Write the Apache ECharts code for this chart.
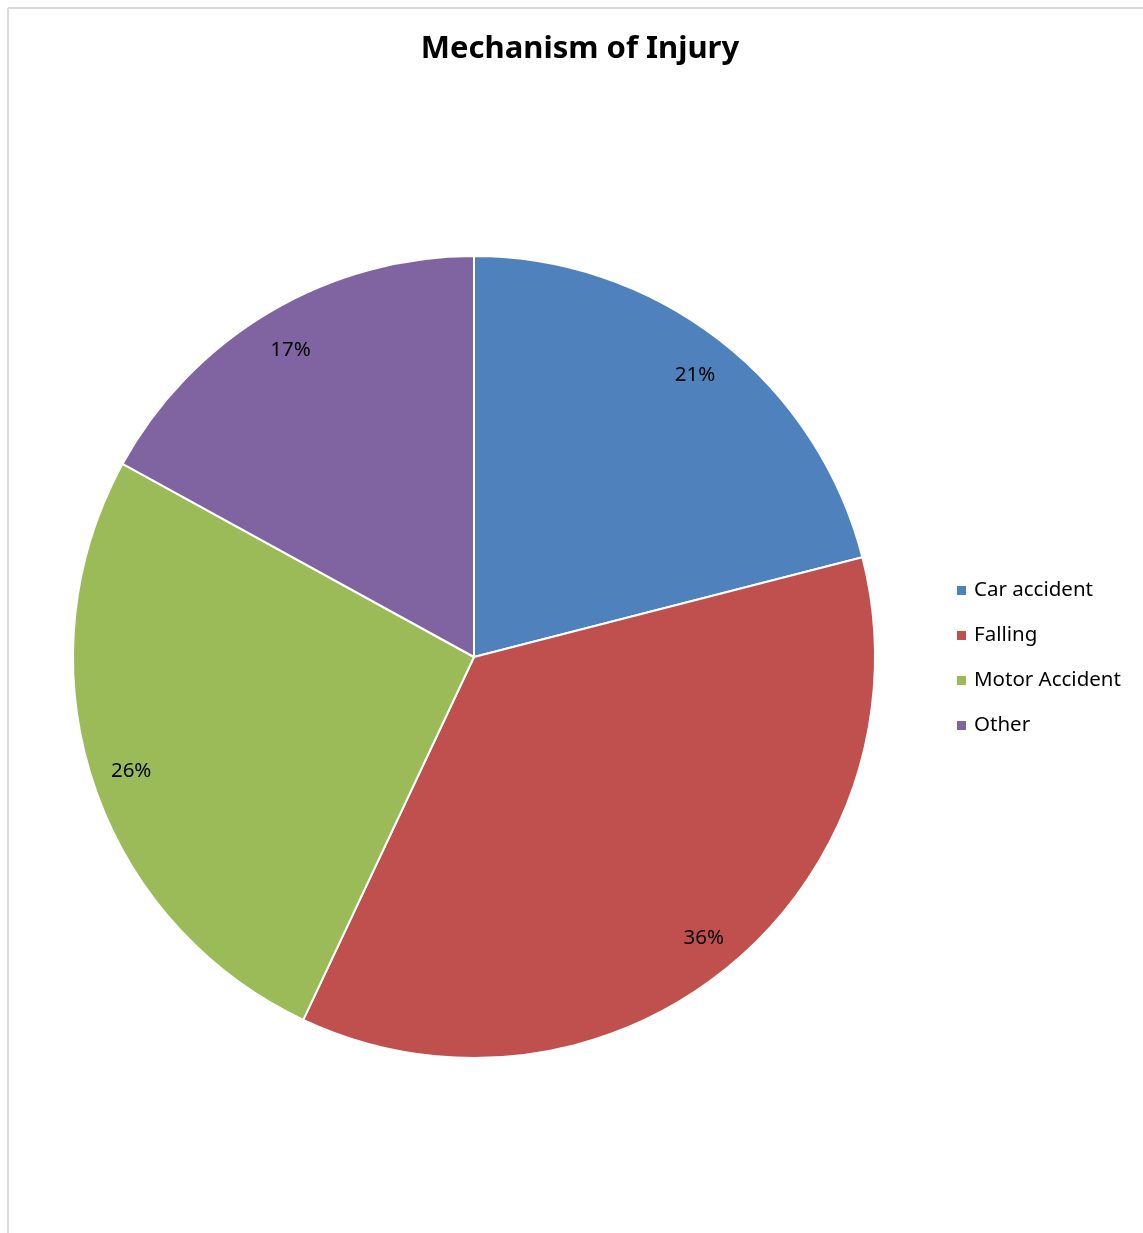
<!DOCTYPE html>
<html>
<head>
<meta charset="utf-8">
<script src="https://cdn.jsdelivr.net/npm/echarts@6/dist/echarts.min.js"></script>
<style>
html,body{margin:0;padding:0;background:#fff;}
#main{width:1143px;height:1233px;}
</style>
</head>
<body>
<div id="main"></div>
<script>
const titleText = 'Mechanism of Injury';
const categories = ['Car accident', 'Falling', 'Motor Accident', 'Other'];
const values = [21, 36, 26, 17];
const colors = ['#4F81BD', '#C0504D', '#9BBB59', '#8064A2'];

const FONT = 'Noto Sans';
const pieData = categories.map((c, i) => ({ name: c, value: values[i], itemStyle: { color: colors[i] } }));
const labelData = categories.map((c, i) => ({ name: c, value: values[i] }));

const chart = echarts.init(document.getElementById('main'), null, { renderer: 'canvas' });
chart.setOption({
  backgroundColor: '#fff',
  animation: false,
  title: {
    text: titleText,
    left: 580,
    textAlign: 'center',
    top: 34,
    padding: 0,
    textStyle: { fontFamily: FONT, fontWeight: 'bold', fontSize: 31, color: '#000' }
  },
  legend: {
    orient: 'vertical',
    left: 955,
    top: 580,
    padding: 0,
    icon: 'rect',
    itemWidth: 11,
    itemHeight: 11,
    itemGap: 24,
    data: categories,
    selectedMode: false,
    textStyle: { fontFamily: FONT, fontSize: 20.5, color: '#000', lineHeight: 21, padding: [0, 0, 0, 2] }
  },
  graphic: [
    { type: 'line', shape: { x1: 8, y1: 8, x2: 1143, y2: 8 }, style: { stroke: '#d9d9d9', lineWidth: 2 }, silent: true },
    { type: 'line', shape: { x1: 8, y1: 8, x2: 8, y2: 1233 }, style: { stroke: '#d9d9d9', lineWidth: 2 }, silent: true }
  ],
  series: [
    {
      type: 'pie',
      center: [474, 657],
      radius: [0, 401],
      startAngle: 90,
      clockwise: true,
      label: { show: false },
      labelLine: { show: false },
      itemStyle: { borderColor: '#fff', borderWidth: 2 },
      emphasis: { disabled: true },
      data: pieData
    },
    {
      type: 'pie',
      center: [474, 660],
      radius: [314, 401],
      startAngle: 90,
      clockwise: true,
      silent: true,
      itemStyle: { color: 'rgba(0,0,0,0)' },
      emphasis: { disabled: true },
      label: {
        show: true,
        position: 'inside',
        formatter: p => Math.round(p.percent) + '%',
        fontFamily: FONT,
        fontSize: 20.5,
        color: '#000'
      },
      labelLine: { show: false },
      data: labelData
    }
  ]
});
</script>
</body>
</html>
